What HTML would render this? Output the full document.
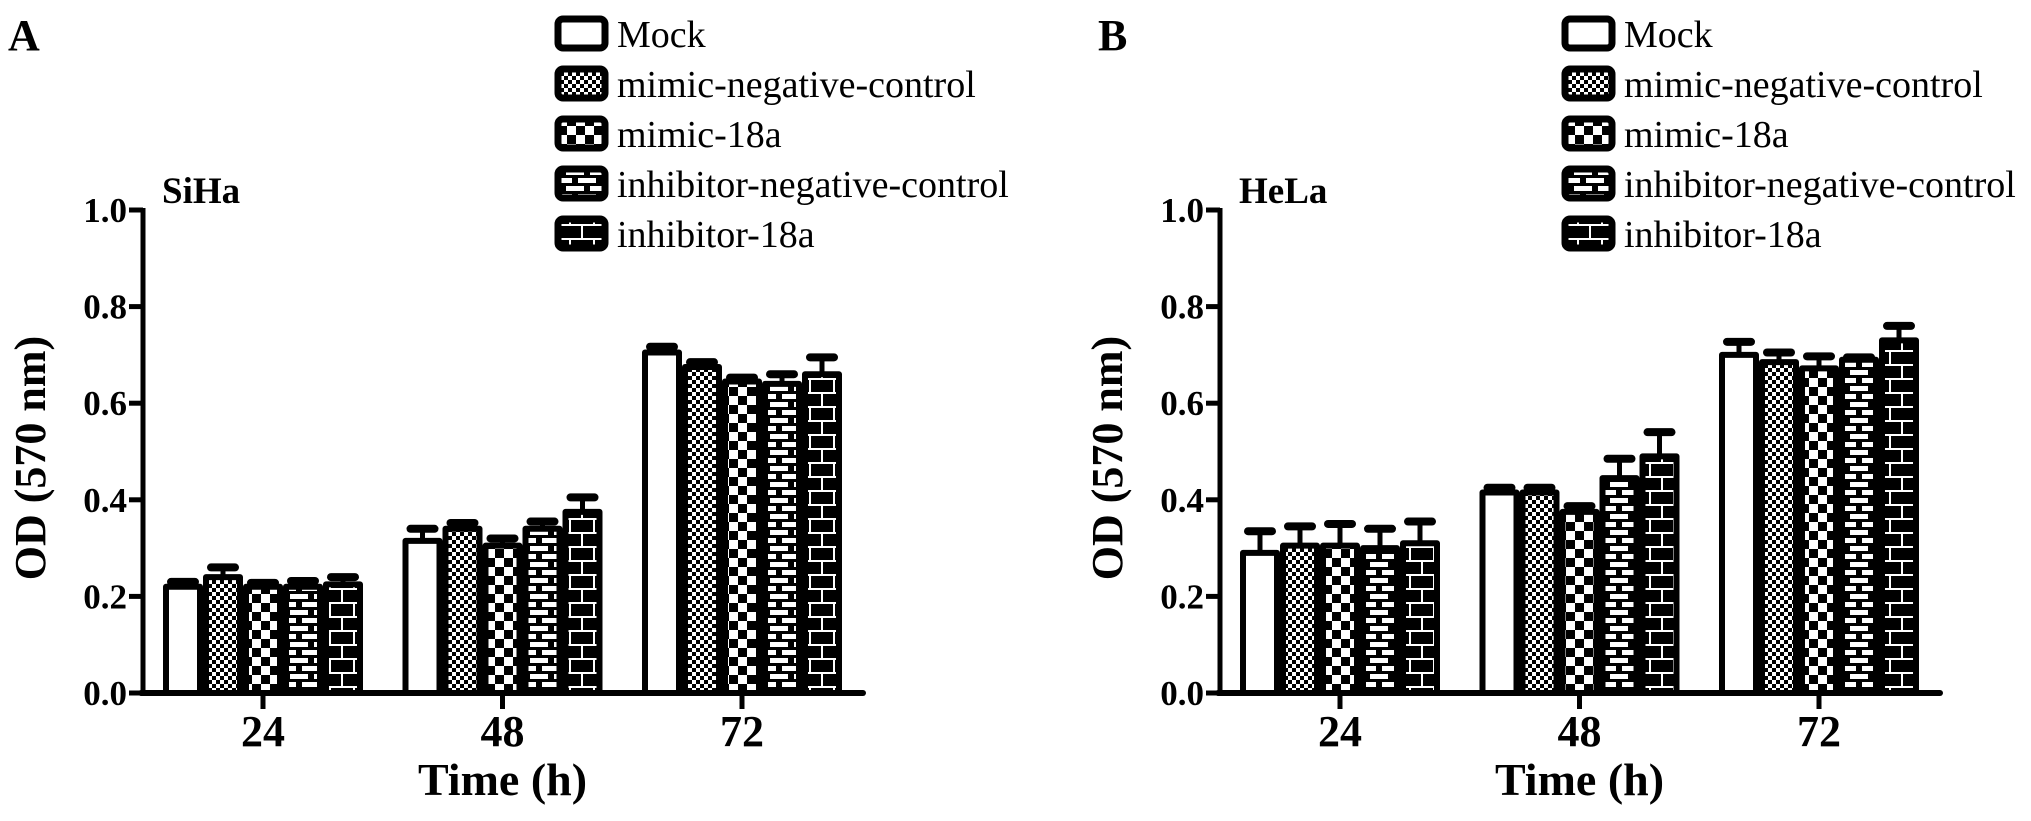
<!DOCTYPE html>
<html><head><meta charset="utf-8">
<style>
html,body{margin:0;padding:0;background:#fff;}
svg{display:block;}
text{font-family:"Liberation Serif",serif;}
.b{font-weight:bold;}
</style></head>
<body>
<svg id="chart" width="2031" height="821" viewBox="0 0 2031 821" xmlns="http://www.w3.org/2000/svg">
<defs>
  <pattern id="p0" width="8" height="8" patternUnits="userSpaceOnUse"><rect width="8" height="8" fill="#fff"/></pattern>
  <pattern id="p1" width="8" height="8" patternUnits="userSpaceOnUse"><rect width="8" height="8" fill="#fff"/><rect x="0" y="0" width="4" height="4" fill="#000"/><rect x="4" y="4" width="4" height="4" fill="#000"/></pattern>
  <pattern id="p2" width="18" height="18" patternUnits="userSpaceOnUse"><rect width="18" height="18" fill="#fff"/><rect x="0" y="0" width="9" height="9" fill="#000"/><rect x="9" y="9" width="9" height="9" fill="#000"/></pattern>
  <pattern id="p3" width="24" height="16" patternUnits="userSpaceOnUse"><rect width="24" height="16" fill="#000"/><rect x="2" y="2" width="18" height="5" fill="#fff"/><rect x="-10" y="10" width="18" height="5" fill="#fff"/><rect x="14" y="10" width="18" height="5" fill="#fff"/></pattern>
  <pattern id="p4" width="24" height="28" patternUnits="userSpaceOnUse"><rect width="24" height="28" fill="#000"/><rect x="0" y="0" width="24" height="2" fill="#fff"/><rect x="0" y="14" width="24" height="2" fill="#fff"/><rect x="5" y="0" width="2" height="14" fill="#fff"/><rect x="17" y="14" width="2" height="14" fill="#fff"/></pattern>
</defs>
<g id="root"></g>
</svg>
<script>
// data
const categories = ["24", "48", "72"];
const seriesNames = ["Mock", "mimic-negative-control", "mimic-18a", "inhibitor-negative-control", "inhibitor-18a"];
const yTicks = [0.0, 0.2, 0.4, 0.6, 0.8, 1.0];
const yTickLabels = ["0.0", "0.2", "0.4", "0.6", "0.8", "1.0"];
// SiHa values [series][category]
const sihaMeans = [[0.22, 0.315, 0.705], [0.24, 0.34, 0.675], [0.22, 0.305, 0.645], [0.22, 0.34, 0.64], [0.225, 0.375, 0.66]];
const sihaErrors = [[0.01, 0.025, 0.012], [0.02, 0.012, 0.01], [0.008, 0.015, 0.008], [0.012, 0.015, 0.02], [0.015, 0.03, 0.035]];
// HeLa values
const helaMeans = [[0.29, 0.415, 0.70], [0.305, 0.415, 0.685], [0.305, 0.375, 0.672], [0.30, 0.445, 0.69], [0.31, 0.49, 0.73]];
const helaErrors = [[0.045, 0.01, 0.027], [0.04, 0.01, 0.02], [0.045, 0.012, 0.025], [0.04, 0.04, 0.005], [0.045, 0.05, 0.03]];

const NS = "http://www.w3.org/2000/svg";
const root = document.getElementById('root');
function mk(tag, attrs, parent, txt) {
  const e = document.createElementNS(NS, tag);
  for (const k in attrs) e.setAttribute(k, attrs[k]);
  if (txt !== undefined) e.textContent = txt;
  (parent || root).appendChild(e);
  return e;
}

function panel(p) {
  const g = mk('g', {});
  
  
  const y0 = 693, yScale = 483;
  const Y = v => y0 - v * yScale;
  const X = i => p.axisX + 120 + i * 239.5;

  const lbl = mk('text', {x: p.letterX, y: 50, 'font-size': 44, class: 'b'}, g, p.letter);
  
  
  const t = mk('text', {x: p.axisX + 19, y: 203, 'font-size': 37, class: 'b'}, g, p.title);
  
  

  for (let s = 0; s < seriesNames.length; s++) {
    for (let c = 0; c < categories.length; c++) {
      const cx = X(c) + (s - 2) * 40;
      const v = p.means[s][c], e = p.errors[s][c];
      const top = Y(v);
      const eb = mk('line', {x1: cx, x2: cx, y1: top, y2: Y(v + e), stroke: '#000', 'stroke-width': 5}, g);
      
      
      const cap = mk('line', {x1: cx - 12, x2: cx + 12, y1: Y(v + e), y2: Y(v + e), stroke: '#000', 'stroke-width': 8, 'stroke-linecap': 'round'}, g);
      
      
      const r = mk('rect', {x: cx - 17, y: top, width: 34, height: y0 - top, fill: 'url(#p' + s + ')', stroke: '#000', 'stroke-width': 6, 'stroke-linejoin': 'round'}, g);
      
      
    }
  }

  const ya = mk('line', {x1: p.axisX, x2: p.axisX, y1: Y(1.0) - 2, y2: y0 + 3, stroke: '#000', 'stroke-width': 5}, g);
  
  
  const xa = mk('line', {x1: p.axisX - 2, x2: p.axisX + 720, y1: y0, y2: y0, stroke: '#000', 'stroke-width': 6, 'stroke-linecap': 'round'}, g);
  
  
  for (let i = 0; i < yTicks.length; i++) {
    const ty = Y(yTicks[i]);
    const tk = mk('line', {x1: p.axisX - 14, x2: p.axisX, y1: ty, y2: ty, stroke: '#000', 'stroke-width': 5}, g);
    
    
    const tl = mk('text', {x: p.axisX - 16, y: ty + 12, 'font-size': 35, class: 'b', 'text-anchor': 'end'}, g, yTickLabels[i]);
    
    
  }
  for (let c = 0; c < categories.length; c++) {
    const tk = mk('line', {x1: X(c), x2: X(c), y1: y0, y2: y0 + 16, stroke: '#000', 'stroke-width': 5}, g);
    
    
    const tl = mk('text', {x: X(c), y: 746, 'font-size': 44, class: 'b', 'text-anchor': 'middle'}, g, categories[c]);
    
    
  }
  const xt = mk('text', {x: X(1), y: 795, 'font-size': 46, class: 'b', 'text-anchor': 'middle'}, g, 'Time (h)');
  
  
  const ycx = p.axisX - 113;
  const yt = mk('text', {x: ycx, y: 458, 'font-size': 44, class: 'b', 'text-anchor': 'middle', transform: 'rotate(-90 ' + ycx + ' 458)', dy: 15}, g, 'OD (570 nm)');
  
  

  for (let s = 0; s < seriesNames.length; s++) {
    const cy = 33 + s * 50;
    const lg = mk('g', {}, g);
    
    
    mk('rect', {x: p.legendX + 3, y: cy - 14, width: 47, height: 29, rx: 5, fill: 'url(#p' + s + ')', stroke: '#000', 'stroke-width': 7}, lg);
    mk('text', {x: p.legendX + 62, y: cy + 14, 'font-size': 38}, lg, seriesNames[s]);
  }
}

panel({key: 'siha', letter: 'A', letterX: 8, title: 'SiHa', axisX: 143, legendX: 555, means: sihaMeans, errors: sihaErrors});
panel({key: 'hela', letter: 'B', letterX: 1098, title: 'HeLa', axisX: 1220, legendX: 1562, means: helaMeans, errors: helaErrors});
</script>
</body></html>
